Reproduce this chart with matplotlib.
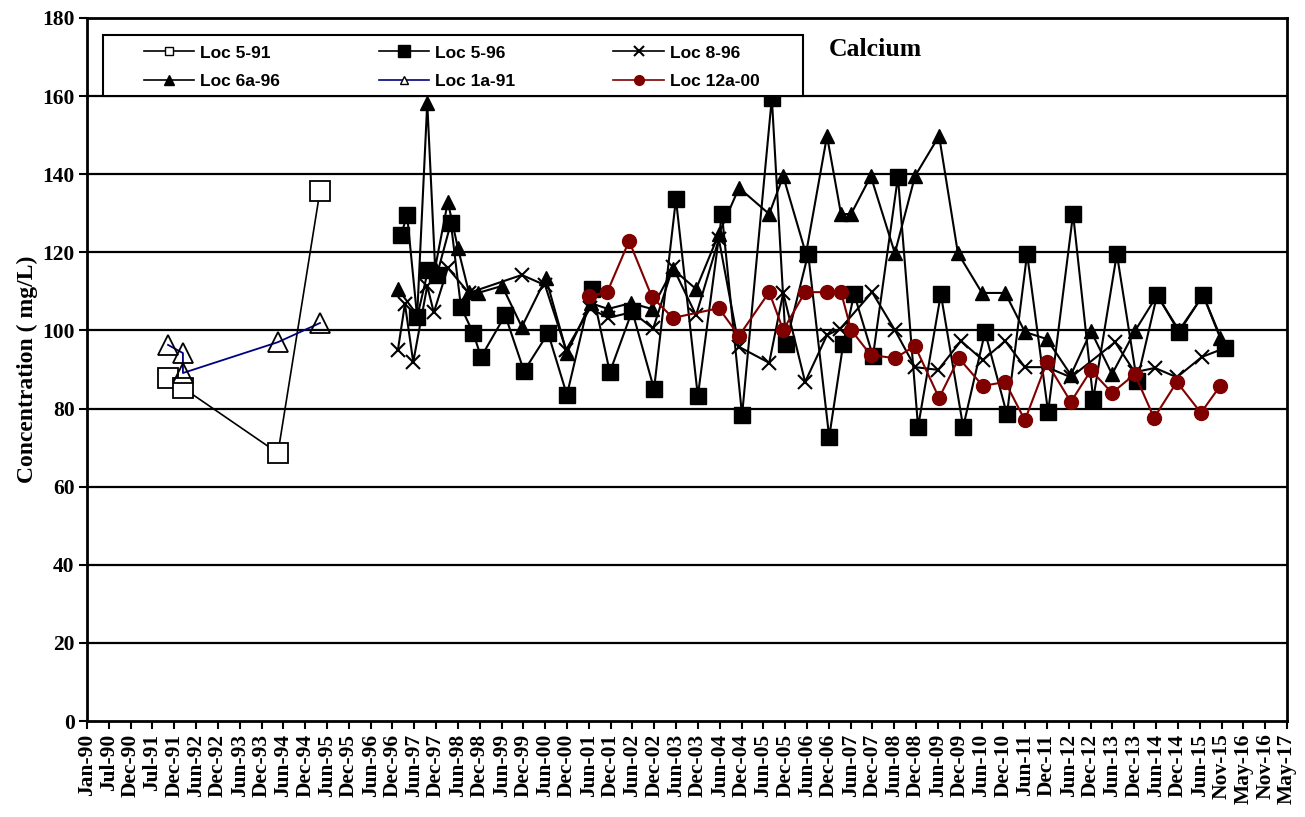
import matplotlib
matplotlib.use("Agg")
import matplotlib.pyplot as plt
from matplotlib.lines import Line2D
from matplotlib.patches import Rectangle

# ---------------- data (x = decimal year, y = mg/L) ----------------
loc5_91_x = [1991.85, 1992.19, 1994.36, 1995.32]
loc5_91_y = [87.8, 85.3, 68.6, 135.7]

loc1a_91_x = [1991.85, 1992.19, 1992.19, 1994.36, 1995.32]
loc1a_91_y = [96.3, 94.2, 89.1, 97.0, 101.9]

loc5_96_x = [1997.17, 1997.31, 1997.54, 1997.79, 1997.99, 1998.31, 1998.54, 1998.82,
             1999.00, 1999.55, 1999.98, 2000.53, 2000.96, 2001.53, 2001.94, 2002.45,
             2002.95, 2003.45, 2003.95, 2004.50, 2004.96, 2005.64, 2005.96, 2006.47,
             2006.95, 2007.27, 2007.52, 2007.95, 2008.52, 2008.98, 2009.50, 2010.01,
             2010.51, 2011.01, 2011.47, 2011.95, 2012.52, 2012.98, 2013.52, 2013.98,
             2014.44, 2014.94, 2015.49, 2015.99]
loc5_96_y = [124.4, 129.5, 103.4, 115.5, 114.2, 127.5, 106.0, 99.3,
             93.2, 103.9, 89.6, 99.3, 83.5, 110.6, 89.3, 105.0,
             85.0, 133.6, 83.2, 129.8, 78.3, 159.5, 96.5, 119.6,
             72.7, 96.5, 109.3, 93.4, 139.3, 75.3, 109.3, 75.3,
             99.6, 78.5, 119.6, 79.1, 129.8, 82.4, 119.6, 87.0,
             109.1, 99.6, 109.1, 95.5]

loc8_96_x = [1997.10, 1997.26, 1997.45, 1997.77, 1997.92, 1998.24, 1998.72, 1999.93,
             2000.46, 2000.94, 2001.49, 2001.90, 2002.45, 2002.93, 2003.38, 2003.91,
             2004.43, 2004.89, 2005.58, 2005.90, 2006.40, 2006.90, 2007.20, 2007.93,
             2008.45, 2008.91, 2009.44, 2009.96, 2010.46, 2010.97, 2011.42, 2011.92,
             2012.47, 2013.48, 2013.93, 2014.39, 2014.89, 2015.46, 2015.99]
loc8_96_y = [95.0, 106.8, 91.9, 111.4, 104.6, 116.0, 109.6, 114.2,
             111.6, 95.0, 105.7, 103.2, 104.7, 100.5, 116.2, 103.9,
             123.4, 95.8, 91.7, 109.6, 86.8, 98.8, 100.4, 109.8,
             100.1, 90.6, 89.9, 97.3, 92.4, 97.3, 90.6, 90.6,
             88.0, 97.0, 89.3, 90.4, 88.0, 93.2, 95.5]

loc6a_96_x = [1997.10, 1997.54, 1997.77, 1997.95, 1998.24, 1998.47, 1998.72, 1998.93,
              1999.48, 1999.93, 2000.48, 2000.96, 2001.50, 2001.90, 2002.42, 2002.90,
              2003.38, 2003.91, 2004.43, 2004.89, 2005.58, 2005.90, 2006.42, 2006.90,
              2007.22, 2007.45, 2007.90, 2008.45, 2008.91, 2009.46, 2009.89, 2010.44,
              2010.97, 2011.42, 2011.92, 2012.47, 2012.93, 2013.41, 2013.93, 2014.44,
              2014.94, 2015.49, 2015.88]
loc6a_96_y = [110.6, 104.0, 158.2, 116.0, 132.9, 121.1, 109.8, 109.6,
              111.4, 100.9, 113.4, 94.2, 107.0, 105.5, 107.0, 105.5,
              115.7, 110.6, 124.7, 136.5, 129.8, 139.5, 119.6, 149.8,
              129.8, 129.8, 139.5, 119.8, 139.5, 149.8, 119.8, 109.6,
              109.6, 99.6, 97.8, 88.6, 99.8, 88.8, 99.8, 109.0,
              100.0, 109.0, 98.1]

loc12a_00_x = [2001.46, 2001.88, 2002.38, 2002.90, 2003.38, 2004.43, 2004.89, 2005.58,
               2005.90, 2006.40, 2006.90, 2007.22, 2007.45, 2007.90, 2008.45, 2008.91,
               2009.46, 2009.91, 2010.46, 2010.97, 2011.42, 2011.92, 2012.47, 2012.93,
               2013.41, 2013.93, 2014.37, 2014.89, 2015.44, 2015.88]
loc12a_00_y = [108.8, 109.8, 122.9, 108.6, 103.2, 105.7, 98.6, 109.8,
               100.1, 109.8, 109.8, 109.8, 100.1, 93.7, 92.9, 96.0,
               82.7, 92.9, 85.8, 86.8, 77.0, 91.8, 81.7, 89.8,
               84.0, 88.8, 77.6, 86.8, 78.9, 85.8]

tick_labels = ["Jan-90", "Jul-90", "Dec-90", "Jul-91", "Dec-91", "Jun-92", "Dec-92",
               "Jun-93", "Dec-93", "Jun-94", "Dec-94", "Jun-95", "Dec-95", "Jun-96",
               "Dec-96", "Jun-97", "Dec-97", "Jun-98", "Dec-98", "Jun-99", "Dec-99",
               "Jun-00", "Dec-00", "Jun-01", "Dec-01", "Jun-02", "Dec-02", "Jun-03",
               "Dec-03", "Jun-04", "Dec-04", "Jun-05", "Dec-05", "Jun-06", "Dec-06",
               "Jun-07", "Dec-07", "Jun-08", "Dec-08", "Jun-09", "Dec-09", "Jun-10",
               "Dec-10", "Jun-11", "Dec-11", "Jun-12", "Dec-12", "Jun-13", "Dec-13",
               "Jun-14", "Dec-14", "Jun-15", "Nov-15", "May-16", "Nov-16", "May-17"]
y_ticks = [0, 20, 40, 60, 80, 100, 120, 140, 160, 180]

# ---------------- figure ----------------
fig = plt.figure(figsize=(13.05, 8.17), dpi=100)
ax = fig.add_axes([0.0667, 0.1175, 0.9195, 0.8605])

serif = "Liberation Serif"
sans = "Liberation Sans"

step = 182.0 / 365.25
tick_pos = [1990.0 + i * step for i in range(len(tick_labels))]

for yv in y_ticks[1:-1]:
    ax.axhline(yv, color="black", lw=1.6, zorder=1)

lw = 1.5
ax.plot(loc5_91_x, loc5_91_y, color="black", lw=1.2, marker="s", ms=14,
        mfc="white", mec="black", mew=1.3, zorder=3)
ax.plot(loc1a_91_x, loc1a_91_y, color="#000080", lw=1.3, marker="^", ms=14,
        mfc="none", mec="black", mew=1.3, zorder=3)
ax.plot(loc5_96_x, loc5_96_y, color="black", lw=lw, marker="s", ms=11,
        mfc="black", mec="black", zorder=4)
ax.plot(loc8_96_x, loc8_96_y, color="black", lw=lw, marker="x", ms=10,
        mec="black", mew=1.5, zorder=4)
ax.plot(loc6a_96_x, loc6a_96_y, color="black", lw=lw, marker="^", ms=10,
        mfc="black", mec="black", zorder=4)
ax.plot(loc12a_00_x, loc12a_00_y, color="#800000", lw=lw, marker="o", ms=10,
        mfc="#800000", mec="#800000", zorder=5)

ax.set_xlim(tick_pos[0], tick_pos[-1])
ax.set_ylim(0, 180)
ax.set_xticks(tick_pos)
ax.set_xticklabels(tick_labels, rotation=90, fontfamily=serif,
                   fontweight="bold", fontsize=15.5)
ax.set_yticks(y_ticks)
ax.set_yticklabels([str(v) for v in y_ticks], fontfamily=serif,
                   fontweight="bold", fontsize=15.5)
ax.tick_params(axis="both", direction="out", length=6, width=1.5, color="black", pad=3)
for s in ax.spines.values():
    s.set_linewidth(2)
    s.set_color("black")

ax.set_ylabel("Concentration ( mg/L)", fontfamily=serif, fontweight="bold",
              fontsize=17, labelpad=3)

ax.text(0.618, 0.955, "Calcium", transform=ax.transAxes, fontfamily=serif,
        fontweight="bold", fontsize=18.5, va="center", ha="left")

# legend frame
frame = Rectangle((0.0133, 0.889), 0.5834, 0.0868, transform=ax.transAxes,
                  facecolor="white", edgecolor="black", lw=1.5, zorder=6)
ax.add_patch(frame)

# legend (filled column-wise => order for 3 columns x 2 rows)
h = [
    Line2D([], [], color="black", lw=1.2, marker="s", ms=6, mfc="white", mec="black"),
    Line2D([], [], color="black", lw=1.2, marker="^", ms=7, mfc="black", mec="black"),
    Line2D([], [], color="black", lw=1.2, marker="s", ms=9, mfc="black", mec="black"),
    Line2D([], [], color="#000080", lw=1.2, marker="^", ms=6, mfc="white", mec="black"),
    Line2D([], [], color="black", lw=1.2, marker="x", ms=7, mec="black", mew=1.5),
    Line2D([], [], color="#800000", lw=1.2, marker="o", ms=7, mfc="#800000", mec="#800000"),
]
labels = ["Loc 5-91", "Loc 6a-96", "Loc 5-96", "Loc 1a-91", "Loc 8-96", "Loc 12a-00"]
leg = ax.legend(h, labels, ncol=3, loc="upper left",
                bbox_to_anchor=(0.0475, 0.961, 0.513, 0.0), mode="expand",
                borderaxespad=0.0, borderpad=0.0,
                frameon=False, handlelength=2.9, handletextpad=0.35,
                labelspacing=0.75, columnspacing=1.0,
                prop={"family": sans, "weight": "bold", "size": 12.5})
leg.set_zorder(7)

fig.savefig("out.png", dpi=100)
